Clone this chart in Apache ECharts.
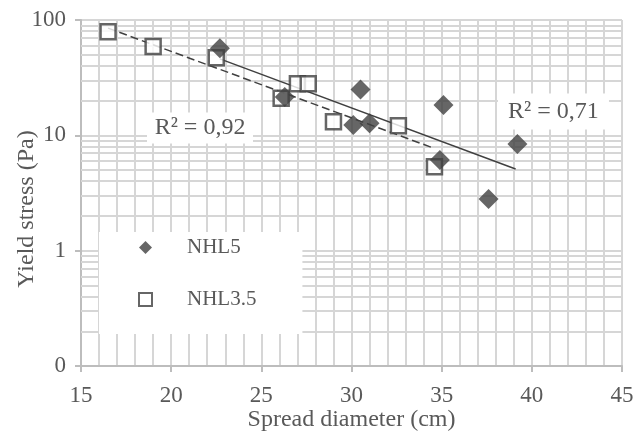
<!DOCTYPE html>
<html>
<head>
<meta charset="utf-8">
<script src="https://cdn.jsdelivr.net/npm/echarts@6/dist/echarts.min.js"></script>
<style>
html,body{margin:0;padding:0;background:#fff;}
#chart{width:640px;height:437px;}
</style>
</head>
<body>
<div id="chart"></div>
<script>
// Data
var nhl5 = [[22.7, 57], [26.3, 21.5], [30.5, 25], [30.1, 12.3], [31.0, 12.7], [35.1, 18.3], [34.9, 6.1], [39.2, 8.4], [37.6, 2.8]];
var nhl35 = [[16.5, 79], [19.0, 59], [22.5, 47], [26.1, 21], [27.0, 28], [27.6, 28], [29.0, 13.1], [32.6, 12.1], [34.6, 5.35]];
var trendNhl5 = [[22.7, 46], [39.1, 5.1]];
var trendNhl35 = [[16.5, 85], [34.6, 7.7]];
var r2Labels = [
  {text: 'R² = 0,92', coord: [21.6, 11.6]},
  {text: 'R² = 0,71', coord: [41.2, 16.1]}
];
var yMinorGrid = [0.2, 0.3, 0.4, 0.5, 0.6, 0.7, 0.8, 0.9, 2, 3, 4, 5, 6, 7, 8, 9, 20, 30, 40, 50, 60, 70, 80, 90];
var seriesNames = ['NHL5', 'NHL3.5'];
var xTitle = 'Spread diameter (cm)';
var yTitle = 'Yield stress (Pa)';

var FONT = 'Liberation Serif';
var TXT = '#595959';
var GRID = '#d6d6d6';
var MARK = '#404040';

var chart = echarts.init(document.getElementById('chart'), null, {renderer: 'canvas'});
chart.setOption({
  animation: false,
  backgroundColor: '#fff',
  textStyle: {fontFamily: FONT},
  grid: {left: 81, right: 18, top: 20, bottom: 71, containLabel: false, outerBoundsMode: 'none'},
  graphic: [{
    type: 'text',
    x: 27,
    y: 209,
    rotation: Math.PI / 2,
    silent: true,
    style: {
      text: yTitle,
      fontFamily: FONT,
      fontSize: 24,
      fill: TXT,
      align: 'center',
      verticalAlign: 'middle',
      textAlign: 'center',
      textVerticalAlign: 'middle'
    }
  }],
  legend: {
    data: [
      {name: seriesNames[0], icon: 'diamond'},
      {name: seriesNames[1]}
    ],
    orient: 'vertical',
    left: 99,
    top: 232,
    z: 10,
    backgroundColor: '#fff',
    padding: [5, 46, 24, 39],
    itemGap: 31,
    itemWidth: 13,
    itemHeight: 13,
    textStyle: {fontFamily: FONT, fontSize: 21, color: TXT, padding: [0, 0, 0, 30]}
  },
  xAxis: {
    type: 'value',
    min: 15, max: 45, interval: 5,
    name: xTitle,
    nameLocation: 'middle',
    nameGap: 42,
    nameMoveOverlap: false,
    nameTextStyle: {fontFamily: FONT, fontSize: 24, color: TXT},
    axisLine: {lineStyle: {color: '#bdbdbd', width: 2}},
    axisTick: {show: true, length: 6, lineStyle: {color: '#bdbdbd', width: 2}},
    axisLabel: {fontFamily: FONT, fontSize: 23, color: TXT, margin: 18},
    splitLine: {show: true, lineStyle: {color: GRID, width: 2}},
    minorTick: {show: false, splitNumber: 5},
    minorSplitLine: {show: true, lineStyle: {color: GRID, width: 2}}
  },
  yAxis: {
    type: 'log',
    logBase: 10,
    min: 0.1, max: 100,
    axisLine: {show: true, lineStyle: {color: '#bdbdbd', width: 2}},
    axisTick: {show: true, length: 6, lineStyle: {color: '#bdbdbd', width: 2}},
    axisLabel: {fontFamily: FONT, fontSize: 23, color: TXT, margin: 15,
      formatter: function (v) { return v < 1 ? '0' : String(Math.round(v)); }},
    splitLine: {show: true, lineStyle: {color: GRID, width: 2}}
  },
  series: [
    {
      name: 'minor',
      type: 'scatter',
      data: [],
      z: 1,
      silent: true,
      markLine: {
        silent: true,
        z: 1,
        symbol: ['none', 'none'],
        label: {show: false},
        lineStyle: {color: GRID, width: 2, type: 'solid'},
        data: yMinorGrid.map(function (v) { return {yAxis: v}; })
      }
    },
    {
      name: 'trend5',
      type: 'line',
      data: trendNhl5,
      symbol: 'none',
      z: 3,
      lineStyle: {color: MARK, width: 1.5, type: 'solid'},
      markPoint: {
        symbol: 'rect',
        symbolSize: [111, 36],
        itemStyle: {color: '#fff'},
        label: {show: true, position: 'inside', fontFamily: FONT, fontSize: 24, color: TXT,
          formatter: function (p) { return p.name; }},
        data: [{name: r2Labels[1].text, coord: r2Labels[1].coord}]
      }
    },
    {
      name: 'trend35',
      type: 'line',
      data: trendNhl35,
      symbol: 'none',
      z: 3,
      lineStyle: {color: MARK, width: 1.5, type: [8, 4]},
      markPoint: {
        symbol: 'rect',
        symbolSize: [106, 31],
        itemStyle: {color: '#fff'},
        label: {show: true, position: 'inside', fontFamily: FONT, fontSize: 24, color: TXT,
          formatter: function (p) { return p.name; }},
        data: [{name: r2Labels[0].text, coord: r2Labels[0].coord}]
      }
    },
    {
      name: seriesNames[1],
      type: 'scatter',
      data: nhl35,
      symbol: 'rect',
      symbolSize: 15,
      z: 4,
      itemStyle: {color: '#fff', borderColor: MARK, borderWidth: 2.5}
    },
    {
      name: seriesNames[0],
      type: 'scatter',
      data: nhl5,
      symbol: 'diamond',
      symbolSize: 20,
      z: 5,
      itemStyle: {color: MARK}
    }
  ]
});
</script>
</body>
</html>
